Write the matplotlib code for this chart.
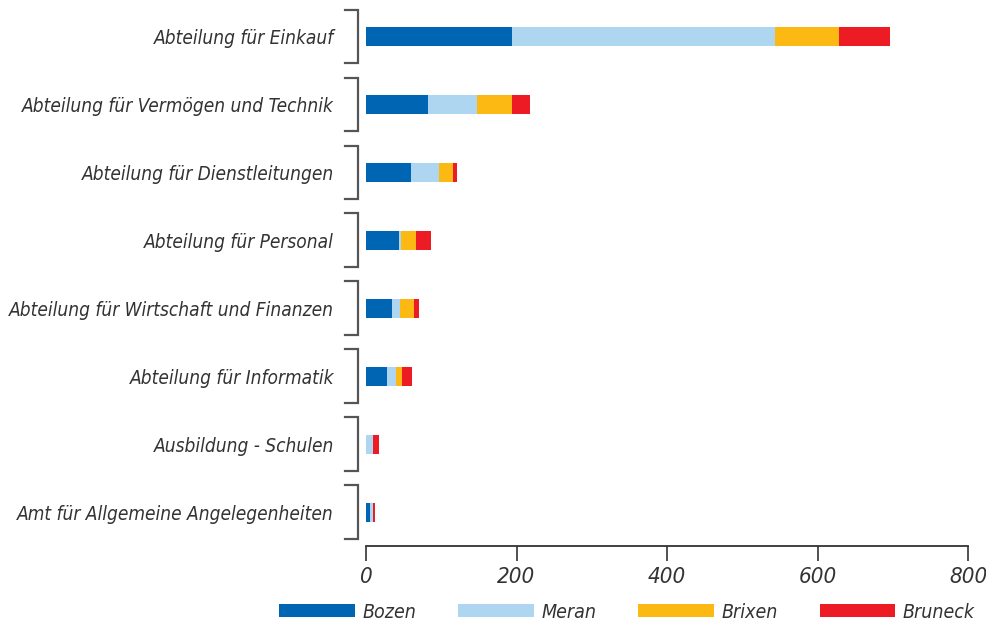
import matplotlib
matplotlib.use('Agg')
from matplotlib import pyplot as plt

# data
categories = ['Abteilung für Einkauf',
              'Abteilung für Vermögen und Technik',
              'Abteilung für Dienstleitungen',
              'Abteilung für Personal',
              'Abteilung für Wirtschaft und Finanzen',
              'Abteilung für Informatik',
              'Ausbildung - Schulen',
              'Amt für Allgemeine Angelegenheiten']
series_names = ['Bozen', 'Meran', 'Brixen', 'Bruneck']
bozen = [194, 82, 60, 44, 34, 28, 0, 5]
meran = [350, 66, 37, 3, 11, 12, 9, 4]
brixen = [84, 46, 19, 20, 19, 8, 0, 0]
bruneck = [69, 24, 5, 20, 7, 13, 8, 3]
colors = ['#0066b3', '#aed6f1', '#fdb913', '#ed1c24']
xticks = [0, 200, 400, 600, 800]

plt.rcParams['font.family'] = ['DejaVu Sans']
plt.rcParams['font.stretch'] = 'condensed'
text_col = '#333333'

fig = plt.figure(figsize=(9.86, 6.24), dpi=100)
W, H = 986, 624
ax = fig.add_axes([366 / W, 1 - 546 / H, (968 - 366) / W, (546 - 3) / H])

ypos = list(range(len(categories)))
left = [0] * len(categories)
for name, vals, c in zip(series_names, [bozen, meran, brixen, bruneck], colors):
    ax.barh(ypos, vals, left=left, height=0.28, color=c, label=name)
    left = [l + v for l, v in zip(left, vals)]

ax.set_xlim(0, 800)
ax.set_ylim(len(categories) - 0.5, -0.5)

# group brackets left of the bars
for y in ypos:
    ax.plot([-28, -10.5, -10.5, -28], [y - 0.4, y - 0.4, y + 0.39, y + 0.39],
            color='#555555', lw=1.6, clip_on=False, solid_joinstyle='miter')

ax.set_yticks(ypos)
ax.set_yticklabels(categories, fontsize=13.7, style='italic', color=text_col,
                   fontstretch='condensed')
ax.tick_params(axis='y', length=0, pad=23)

ax.set_xticks(xticks)
ax.set_xticklabels([str(t) for t in xticks], fontsize=16, style='italic', color=text_col,
                   fontstretch='condensed')
ax.tick_params(axis='x', length=11, width=1.2, color='#333333', pad=4)

for s in ['top', 'right', 'left']:
    ax.spines[s].set_visible(False)
ax.spines['bottom'].set_color('#333333')
ax.spines['bottom'].set_linewidth(1.3)

fig.legend(loc='center', bbox_to_anchor=(627 / W, 1 - 612 / H), ncol=4, frameon=False,
           prop={'size': 14, 'style': 'italic', 'stretch': 'condensed'}, labelcolor=text_col,
           handlelength=3.9, handleheight=0.6, columnspacing=2.15, handletextpad=0.38)

plt.savefig('out.png', dpi=100)
plt.close()
